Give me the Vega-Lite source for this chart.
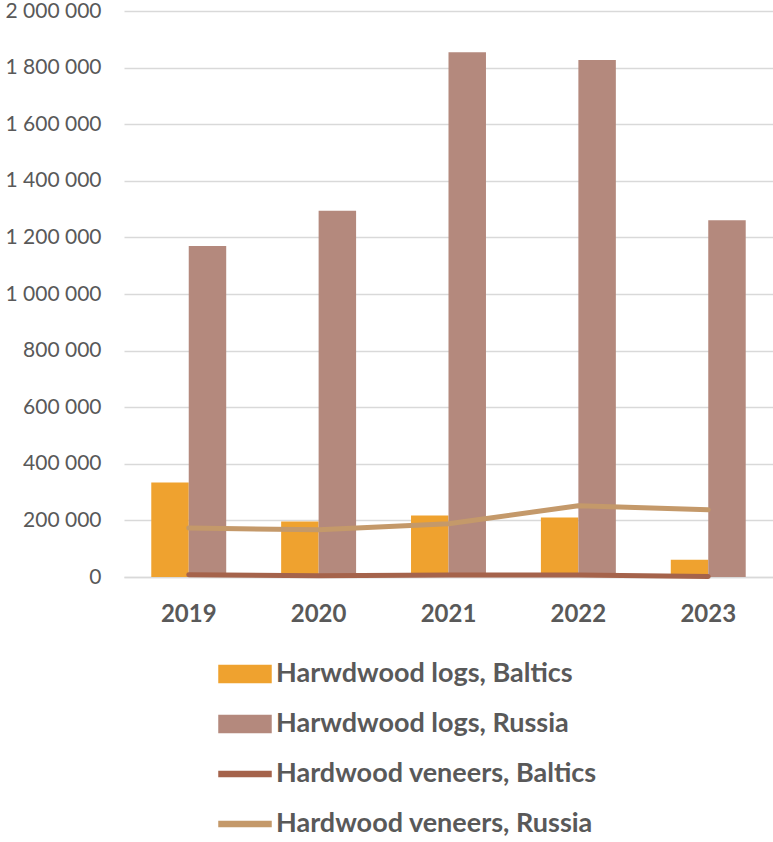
{
  "$schema": "https://vega.github.io/schema/vega-lite/v6.json",
  "width": 649,
  "height": 566,
  "autosize": {"type": "none"},
  "padding": {"left": 124, "top": 11, "right": 0, "bottom": 265},
  "background": "white",
  "config": {"view": {"stroke": null}, "font": "Lato"},
  "data": {
    "values": [
      {"year": "2019", "series": "Harwdwood logs, Baltics", "kind": "logs", "value": 334000},
      {"year": "2020", "series": "Harwdwood logs, Baltics", "kind": "logs", "value": 196000},
      {"year": "2021", "series": "Harwdwood logs, Baltics", "kind": "logs", "value": 217000},
      {"year": "2022", "series": "Harwdwood logs, Baltics", "kind": "logs", "value": 210000},
      {"year": "2023", "series": "Harwdwood logs, Baltics", "kind": "logs", "value": 61000},
      {"year": "2019", "series": "Harwdwood logs, Russia", "kind": "logs", "value": 1170000},
      {"year": "2020", "series": "Harwdwood logs, Russia", "kind": "logs", "value": 1294000},
      {"year": "2021", "series": "Harwdwood logs, Russia", "kind": "logs", "value": 1854000},
      {"year": "2022", "series": "Harwdwood logs, Russia", "kind": "logs", "value": 1827000},
      {"year": "2023", "series": "Harwdwood logs, Russia", "kind": "logs", "value": 1261000},
      {"year": "2019", "series": "Hardwood veneers, Baltics", "kind": "veneers", "value": 8000},
      {"year": "2020", "series": "Hardwood veneers, Baltics", "kind": "veneers", "value": 4000},
      {"year": "2021", "series": "Hardwood veneers, Baltics", "kind": "veneers", "value": 7000},
      {"year": "2022", "series": "Hardwood veneers, Baltics", "kind": "veneers", "value": 7000},
      {"year": "2023", "series": "Hardwood veneers, Baltics", "kind": "veneers", "value": 2000},
      {"year": "2019", "series": "Hardwood veneers, Russia", "kind": "veneers", "value": 173000},
      {"year": "2020", "series": "Hardwood veneers, Russia", "kind": "veneers", "value": 167000},
      {"year": "2021", "series": "Hardwood veneers, Russia", "kind": "veneers", "value": 188000},
      {"year": "2022", "series": "Hardwood veneers, Russia", "kind": "veneers", "value": 252000},
      {"year": "2023", "series": "Hardwood veneers, Russia", "kind": "veneers", "value": 238000}
    ]
  },
  "encoding": {
    "x": {
      "field": "year",
      "type": "nominal",
      "scale": {"paddingInner": 0.423, "paddingOuter": 0.21},
      "axis": {
        "title": null,
        "labelAngle": 0,
        "labelFont": "Lato",
        "labelFontSize": 24,
        "labelFontWeight": "bold",
        "labelColor": "#595959",
        "ticks": false,
        "domainColor": "#D9D9D9",
        "domainWidth": 1.5,
        "labelPadding": 25,
        "grid": false
      }
    },
    "y": {
      "field": "value",
      "type": "quantitative",
      "scale": {"domain": [0, 2000000]},
      "axis": {
        "title": null,
        "values": [0, 200000, 400000, 600000, 800000, 1000000, 1200000, 1400000, 1600000, 1800000, 2000000],
        "labelExpr": "replace(format(datum.value, ','), /,/g, ' ')",
        "labelFont": "Lato",
        "labelFontSize": 21,
        "labelColor": "#595959",
        "gridColor": "#D9D9D9",
        "gridWidth": 1.5,
        "domain": false,
        "ticks": false,
        "labelPadding": 23
      }
    },
    "color": {
      "field": "series",
      "type": "nominal",
      "scale": {
        "domain": ["Harwdwood logs, Baltics", "Harwdwood logs, Russia", "Hardwood veneers, Baltics", "Hardwood veneers, Russia"],
        "range": ["#EFA22F", "#B4897D", "#A5634B", "#C4996A"]
      },
      "legend": {
        "title": null,
        "orient": "none",
        "legendX": 94,
        "legendY": 636,
        "direction": "vertical",
        "columns": 1,
        "padding": 0,
        "labelFont": "Lato",
        "labelFontSize": 27,
        "labelFontWeight": "bold",
        "labelColor": "#595959",
        "labelLimit": 600,
        "labelOffset": 4,
        "symbolSize": 2704,
        "rowPadding": 10,
        "encode": {
          "symbols": {
            "update": {
              "shape": {"signal": "test(/veneers/, datum.value) ? 'M-1,-0.1H1V0.1H-1Z' : 'M-1,-0.327H1V0.327H-1Z'"},
              "fill": {"scale": "color", "field": "value"},
              "stroke": {"value": "transparent"},
              "opacity": {"value": 1},
              "fillOpacity": {"value": 1}
            }
          }
        }
      }
    }
  },
  "layer": [
    {
      "transform": [{"filter": "datum.kind === 'logs'"}],
      "mark": {"type": "bar"},
      "encoding": {
        "xOffset": {"field": "series", "type": "nominal", "sort": ["Harwdwood logs, Baltics", "Harwdwood logs, Russia"], "scale": {"paddingInner": 0}}
      }
    },
    {
      "transform": [{"filter": "datum.kind === 'veneers'"}],
      "mark": {"type": "line", "strokeWidth": 5, "strokeCap": "round", "strokeJoin": "round"},
      "encoding": {}
    }
  ]
}
